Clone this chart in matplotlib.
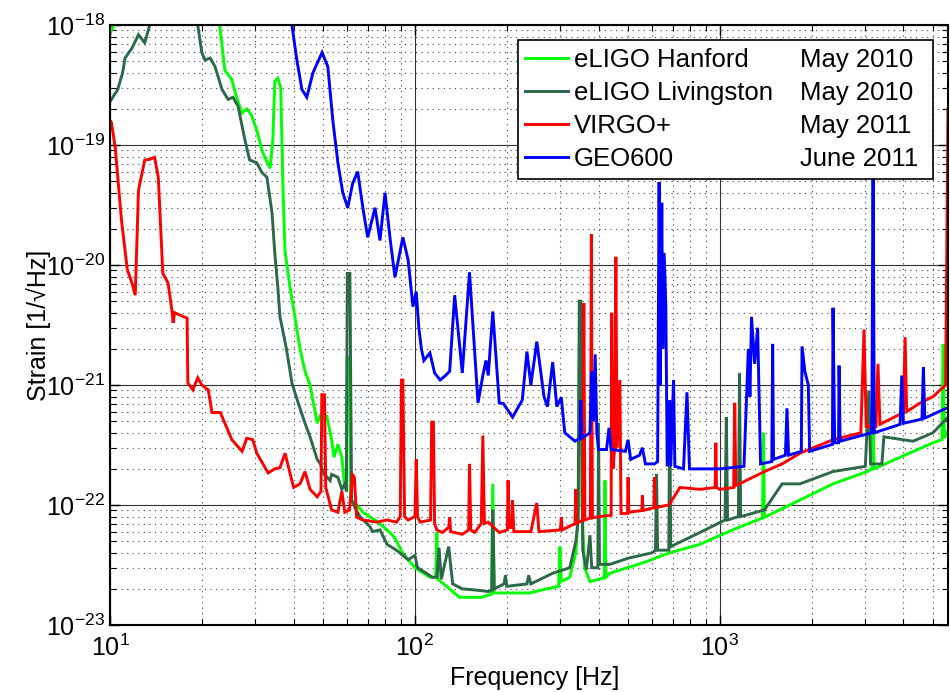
import numpy as np
import matplotlib
matplotlib.use("Agg")
import matplotlib.pyplot as plt
from matplotlib.lines import Line2D
from matplotlib.ticker import LogLocator, NullFormatter

plt.rcParams['font.family'] = ['Liberation Sans', 'DejaVu Sans']
plt.rcParams['mathtext.fontset'] = 'custom'
plt.rcParams['mathtext.rm'] = 'Liberation Sans'
plt.rcParams['mathtext.it'] = 'Liberation Sans'

# eLIGO Hanford, May 2010
hanford_f = [10.0, 10.3, 11.0, 20.0, 22.8, 23.8, 25.1, 26.0, 27.1, 28.1, 29.0, 30.3, 31.5, 32.2,
             33.5, 34.2, 34.7, 35.5, 36.3, 36.9, 37.5, 38.9, 40.4, 42.0, 43.6, 45.3, 47.8, 49.6,
             51.4, 53.3, 54.3, 55.9, 57.6, 58.9, 59.6, 60.0, 61.0, 61.5, 64.4, 67.5, 75.0, 81.0,
             85.0, 87.0, 91.0, 100.0, 112.0, 117.0, 118.0, 119.0, 127.0, 140.0, 150.0, 165.0,
             178.0, 180.0, 182.0, 200.0, 238.0, 270.0, 296.0, 299.0, 302.0, 322.0, 337.0, 343.0,
             347.0, 350.0, 353.0, 360.0, 375.0, 400.0, 418.0, 420.0, 423.0, 436.0, 560.0, 685.0,
             860.0, 1100.0, 1380.0, 1390.0, 1400.0, 1830.0, 2350.0, 3040.0, 3150.0, 3180.0, 3200.0,
             3900.0, 5000.0, 5350.0, 5400.0, 5450.0, 5600.0]
hanford_h = [8.5e-19, 1.0e-18, 1.6e-18, 4.0e-18, 1.1e-18, 4.2e-19, 3.5e-19, 2.5e-19, 1.85e-19,
             2.0e-19, 1.8e-19, 1.33e-19, 9.1e-20, 7.9e-20, 6.4e-20, 1.1e-19, 3.4e-19, 3.6e-19,
             3.0e-19, 4.5e-20, 1.3e-20, 6.6e-21, 3.7e-21, 2.0e-21, 1.3e-21, 1.0e-21, 4.8e-22,
             6.0e-22, 5.5e-22, 3.5e-22, 2.5e-22, 3.2e-22, 2.5e-22, 1.4e-22, 1.5e-22, 1.7e-21,
             1.7e-21, 1.1e-22, 1.0e-22, 8.7e-23, 7.3e-23, 6.2e-23, 5.5e-23, 5.0e-23, 4.0e-23,
             3.0e-23, 2.5e-23, 2.5e-23, 5.9e-23, 2.4e-23, 2.1e-23, 1.7e-23, 1.7e-23, 1.7e-23,
             1.8e-23, 1.5e-22, 1.85e-23, 1.85e-23, 1.85e-23, 2.0e-23, 2.1e-23, 4.5e-23, 2.3e-23,
             2.5e-23, 4.0e-23, 8.0e-23, 4.8e-21, 4.8e-21, 1.0e-22, 3.0e-23, 2.3e-23, 2.4e-23,
             2.5e-23, 1.6e-22, 2.5e-23, 2.7e-23, 3.3e-23, 4.0e-23, 4.7e-23, 6.2e-23, 7.8e-23,
             4.0e-22, 7.9e-23, 1.1e-22, 1.5e-22, 1.9e-22, 2.0e-22, 1.0e-21, 2.0e-22, 2.5e-22,
             3.3e-22, 3.5e-22, 2.2e-21, 3.6e-22, 4.2e-22]

# eLIGO Livingston, May 2010
livingston_f = [10.0, 10.6, 11.0, 11.2, 11.8, 12.4, 13.0, 13.5, 14.5, 18.5, 19.4, 20.0, 20.5,
                21.3, 22.1, 23.3, 24.4, 25.3, 26.3, 27.7, 28.7, 30.3, 31.5, 32.7, 34.0, 34.7,
                35.5, 36.1, 37.9, 39.5, 41.4, 43.6, 45.3, 47.8, 49.0, 50.0, 52.7, 53.3, 55.9,
                57.6, 58.9, 59.6, 60.0, 61.2, 62.0, 64.4, 66.1, 71.2, 72.6, 76.8, 81.0, 87.0,
                95.0, 100.0, 102.0, 109.0, 114.0, 118.0, 120.0, 122.0, 129.0, 133.0, 143.0,
                160.0, 174.0, 179.0, 180.0, 182.0, 196.0, 198.0, 200.0, 233.0, 236.0, 240.0,
                283.0, 322.0, 337.0, 343.0, 346.0, 350.0, 355.0, 365.0, 375.0, 380.0, 398.0,
                400.0, 403.0, 436.0, 500.0, 600.0, 615.0, 620.0, 625.0, 680.0, 685.0, 690.0,
                860.0, 1040.0, 1050.0, 1060.0, 1150.0, 1160.0, 1170.0, 1400.0, 1600.0, 1830.0,
                2350.0, 3000.0, 3080.0, 3120.0, 3400.0, 3450.0, 4300.0, 5000.0, 5600.0]
livingston_h = [2.3e-19, 2.9e-19, 4.0e-19, 5.3e-19, 6.4e-19, 8.3e-19, 7.1e-19, 1.0e-18, 2.0e-18,
                2.5e-18, 1.0e-18, 5.9e-19, 5.1e-19, 5.3e-19, 4.5e-19, 2.9e-19, 2.4e-19, 2.5e-19,
                2.1e-19, 1.1e-19, 7.5e-20, 7.1e-20, 5.9e-20, 5.4e-20, 2.7e-20, 1.26e-20, 6.6e-21,
                3.7e-21, 2.0e-21, 1.04e-21, 7.1e-22, 4.8e-22, 3.7e-22, 2.4e-22, 2.2e-22, 1.85e-22,
                1.6e-22, 1.8e-22, 1.7e-22, 1.35e-22, 1.5e-22, 1.3e-22, 8.5e-21, 8.5e-21, 1.1e-22,
                8.9e-23, 8.0e-23, 6.6e-23, 6.0e-23, 6.2e-23, 4.7e-23, 4.2e-23, 3.5e-23, 3.8e-23,
                3.0e-23, 2.7e-23, 2.5e-23, 2.5e-23, 4.4e-23, 2.4e-23, 4.5e-23, 2.2e-23, 2.0e-23,
                1.95e-23, 1.9e-23, 1.95e-23, 9.1e-23, 2.0e-23, 2.2e-23, 2.6e-23, 2.1e-23, 2.2e-23,
                2.6e-23, 2.2e-23, 2.7e-23, 3.0e-23, 5.0e-23, 7.5e-23, 5.0e-21, 5.0e-21, 4.2e-23,
                2.9e-23, 5.6e-23, 3.0e-23, 3.0e-23, 4.8e-22, 3.2e-23, 3.2e-23, 3.6e-23, 4.0e-23,
                4.2e-23, 1.8e-22, 4.2e-23, 4.2e-23, 7.0e-22, 4.5e-23, 5.9e-23, 7.5e-23, 5.4e-22,
                7.5e-23, 8.0e-23, 1.26e-21, 8.0e-23, 9.1e-23, 1.5e-22, 1.5e-22, 1.9e-22, 2.1e-22,
                9.0e-22, 2.2e-22, 2.2e-22, 3.7e-22, 3.4e-22, 4.0e-22, 5.4e-22]

# VIRGO+, May 2011
virgo_f = [10.0, 10.1, 10.4, 10.9, 11.4, 11.8, 12.1, 12.4, 13.0, 13.5, 14.0, 14.4, 14.9, 15.5,
           16.0, 16.1, 16.3, 17.9, 18.0, 18.7, 19.4, 20.0, 21.0, 21.6, 23.0, 25.1, 27.1, 28.1,
           29.4, 30.3, 33.0, 34.7, 36.1, 37.5, 38.9, 40.0, 42.0, 43.6, 45.3, 47.8, 49.2, 49.5,
           50.5, 51.0, 53.3, 55.9, 57.6, 58.9, 61.0, 62.5, 63.3, 64.4, 67.5, 75.0, 81.0, 87.0,
           89.5, 90.3, 91.3, 92.5, 95.0, 100.0, 101.0, 102.0, 104.0, 112.5, 113.5, 115.0, 116.0,
           118.0, 123.0, 129.0, 130.0, 131.0, 143.0, 150.0, 151.0, 152.5, 157.0, 165.0, 167.0,
           169.0, 174.0, 189.0, 201.0, 202.0, 204.0, 208.0, 209.0, 211.0, 240.0, 251.0, 255.0,
           300.0, 302.0, 304.0, 335.0, 337.0, 339.0, 355.0, 358.0, 361.0, 376.0, 379.0, 382.0,
           400.0, 440.0, 442.0, 446.0, 452.0, 456.0, 460.0, 470.0, 474.0, 498.0, 500.0, 503.0,
           555.0, 557.0, 560.0, 608.0, 610.0, 613.0, 680.0, 740.0, 860.0, 965.0, 970.0, 975.0,
           1000.0, 1110.0, 1119.0, 1128.0, 1400.0, 1600.0, 1830.0, 2350.0, 2900.0, 2970.0,
           3020.0, 3250.0, 3300.0, 3350.0, 4000.0, 4050.0, 4100.0, 4500.0, 5000.0, 5500.0, 5600.0]
virgo_h = [1.6e-19, 1.55e-19, 9.6e-20, 2.4e-20, 9.1e-21, 7.1e-21, 5.6e-21, 4.2e-20, 7.5e-20,
           7.6e-20, 7.9e-20, 5.4e-20, 8.5e-21, 7.1e-21, 4.0e-21, 3.3e-21, 4.0e-21, 3.6e-21,
           1.04e-21, 9.1e-22, 1.15e-21, 1.0e-21, 9.1e-22, 5.9e-22, 5.9e-22, 3.5e-22, 2.8e-22,
           3.6e-22, 3.5e-22, 2.7e-22, 1.85e-22, 2.0e-22, 2.05e-22, 2.7e-22, 1.85e-22, 1.4e-22,
           1.5e-22, 1.9e-22, 1.35e-22, 1.17e-22, 1.3e-22, 8.3e-22, 8.3e-22, 1.4e-22, 9.1e-23,
           8.7e-23, 1.3e-22, 8.7e-23, 9.1e-23, 1.78e-22, 1.7e-22, 7.9e-23, 7.5e-23, 7.2e-23,
           7.5e-23, 7.2e-23, 8.0e-23, 1.1e-21, 1.1e-21, 8.0e-23, 7.5e-23, 8.0e-23, 2.4e-22,
           8.0e-23, 7.2e-23, 7.5e-23, 4.9e-22, 4.9e-22, 7.0e-23, 6.2e-23, 5.9e-23, 6.5e-23,
           7.9e-23, 6.0e-23, 5.7e-23, 6.2e-23, 2.2e-22, 6.2e-23, 5.9e-23, 7.0e-23, 3.8e-22,
           7.0e-23, 7.2e-23, 5.9e-23, 6.2e-23, 1.6e-22, 6.5e-23, 6.5e-23, 1.1e-22, 6.0e-23,
           6.0e-23, 1.04e-22, 6.0e-23, 6.2e-23, 7.9e-23, 6.2e-23, 7.0e-23, 1.35e-22, 7.0e-23,
           7.5e-23, 4.8e-21, 7.5e-23, 7.8e-23, 1.8e-20, 7.8e-23, 8.0e-23, 8.2e-23, 4.0e-21,
           2.0e-22, 3.0e-22, 1.17e-20, 3.0e-22, 1.1e-21, 8.5e-23, 8.5e-23, 1.7e-22, 8.7e-23,
           9.0e-23, 1.2e-22, 9.0e-23, 9.5e-23, 1.7e-22, 9.5e-23, 1.0e-22, 1.4e-22, 1.35e-22,
           1.4e-22, 3.3e-22, 1.4e-22, 1.35e-22, 1.4e-22, 7.1e-22, 1.45e-22, 1.9e-22, 2.2e-22,
           2.7e-22, 3.5e-22, 4.0e-22, 2.9e-21, 4.5e-22, 4.5e-22, 1.5e-21, 4.7e-22, 5.9e-22,
           2.5e-21, 6.0e-22, 7.0e-22, 8.0e-22, 1.0e-21, 2.0e-19]

# GEO600, June 2011
geo_f = [38.5, 39.5, 41.0, 42.6, 44.2, 46.3, 49.6, 51.8, 53.8, 55.9, 58.0, 60.2, 62.5, 64.9,
         67.5, 70.0, 74.0, 76.8, 79.8, 82.8, 86.0, 91.3, 95.0, 98.5, 101.0, 103.0, 105.0, 107.0,
         112.0, 116.0, 121.0, 126.0, 130.0, 135.0, 143.0, 151.0, 161.0, 167.0, 171.0, 174.0,
         180.0, 189.0, 195.0, 209.0, 225.0, 233.0, 240.0, 251.0, 265.0, 272.0, 283.0, 292.0,
         302.0, 310.0, 335.0, 348.0, 350.0, 353.0, 375.0, 380.0, 385.0, 390.0, 395.0, 400.0,
         425.0, 433.0, 440.0, 490.0, 500.0, 510.0, 545.0, 557.0, 570.0, 610.0, 625.0, 632.0,
         638.0, 645.0, 650.0, 655.0, 660.0, 665.0, 672.0, 685.0, 690.0, 705.0, 712.0, 760.0,
         780.0, 795.0, 1000.0, 1200.0, 1240.0, 1255.0, 1270.0, 1300.0, 1330.0, 1360.0, 1480.0,
         1490.0, 1500.0, 1640.0, 1660.0, 1680.0, 1850.0, 1860.0, 1900.0, 1950.0, 1970.0, 2340.0,
         2350.0, 2380.0, 2450.0, 2460.0, 2480.0, 3150.0, 3180.0, 3210.0, 3900.0, 3950.0, 4000.0,
         4600.0, 4650.0, 4700.0, 5600.0]
geo_h = [1.3e-18, 1.0e-18, 5.1e-19, 2.9e-19, 2.5e-19, 4.0e-19, 5.9e-19, 4.5e-19, 1.6e-19,
         7.1e-20, 4.0e-20, 3.0e-20, 4.8e-20, 6.0e-20, 3.0e-20, 1.7e-20, 3.0e-20, 1.6e-20,
         4.0e-20, 1.7e-20, 7.9e-21, 1.7e-20, 1.1e-20, 4.5e-21, 6.0e-21, 3.0e-21, 2.0e-21,
         1.6e-21, 1.85e-21, 1.26e-21, 1.1e-21, 1.2e-21, 1.3e-21, 5.6e-21, 1.26e-21, 8.7e-21,
         7.1e-22, 1.2e-21, 1.6e-21, 1.2e-21, 4.1e-21, 7.1e-22, 7.0e-22, 5.4e-22, 7.5e-22,
         1.9e-21, 1.0e-21, 2.3e-21, 8.0e-22, 6.6e-22, 1.55e-21, 6.6e-22, 7.9e-22, 4.0e-22,
         3.4e-22, 3.6e-22, 7.5e-22, 3.6e-22, 4.0e-22, 1.3e-21, 5.0e-22, 1.8e-21, 4.0e-22,
         2.9e-22, 2.9e-22, 4.4e-22, 2.9e-22, 2.8e-22, 3.5e-22, 2.4e-22, 2.6e-22, 3.0e-22,
         2.2e-22, 2.2e-22, 2.3e-22, 4.9e-20, 1.0e-21, 3.3e-20, 2.0e-21, 1.26e-20, 8.5e-21,
         4.5e-21, 2.1e-22, 7.5e-22, 2.1e-22, 1.1e-21, 2.1e-22, 2.0e-22, 8.7e-22, 2.0e-22,
         2.0e-22, 2.1e-22, 2.0e-21, 8.0e-22, 3.7e-21, 1.5e-21, 3.0e-21, 2.2e-22, 2.3e-22,
         2.2e-21, 2.4e-22, 2.6e-22, 6.4e-22, 2.6e-22, 2.8e-22, 2.1e-21, 1.3e-21, 1.0e-21,
         2.8e-22, 3.2e-22, 4.4e-21, 3.3e-22, 3.3e-22, 1.45e-21, 3.4e-22, 4.0e-22, 1.0e-19,
         4.0e-22, 4.7e-22, 1.2e-21, 4.8e-22, 5.2e-22, 1.4e-21, 5.3e-22, 6.5e-22]

names = ['eLIGO Hanford', 'eLIGO Livingston', 'VIRGO+', 'GEO600']
dates = ['May 2010 ', 'May 2010 ', 'May 2011 ', 'June 2011 ']
colors = ['#00ff00', '#2d6848', '#ff0000', '#0000ff']
x_ticks = [10, 100, 1000]
y_ticks = [1e-23, 1e-22, 1e-21, 1e-20, 1e-19, 1e-18]

fig = plt.figure(figsize=(9.5, 6.92), dpi=100)
ax = fig.add_axes([110 / 950, 67 / 692, 838 / 950, 600 / 692])

series = [(hanford_f, hanford_h), (livingston_f, livingston_h),
          (virgo_f, virgo_h), (geo_f, geo_h)]
handles = []
for (f, h), c in zip(series, colors):
    line, = ax.loglog(f, h, color=c, linewidth=2.1, solid_joinstyle='miter')
    handles.append(line)

ax.set_xlim(10, 5600)
ax.set_ylim(1e-23, 1e-18)

ax.set_xticks(x_ticks)
ax.set_yticks(y_ticks)
ax.yaxis.set_minor_locator(LogLocator(base=10, subs=np.arange(2, 10), numticks=20))
ax.xaxis.set_minor_formatter(NullFormatter())
ax.yaxis.set_minor_formatter(NullFormatter())
ax.set_xlim(10, 5600)
ax.set_ylim(1e-23, 1e-18)

ax.set_axisbelow(True)
ax.grid(True, which='major', color='#333333', linestyle='-', linewidth=0.8)
ax.grid(True, which='minor', color='#444444', linestyle=(0, (1, 4)), linewidth=0.8)

ax.tick_params(which='both', direction='in', top=True, right=True, labelsize=18)
ax.tick_params(which='major', length=7, width=1)
ax.tick_params(which='minor', length=4, width=0.8)
ax.tick_params(axis='x', which='major', pad=7)
for sp in ax.spines.values():
    sp.set_linewidth(1.5)

ax.set_xlabel('Frequency [Hz]', fontsize=18)
ax.set_ylabel('Strain [1/\u221aHz]', fontsize=18)
ax.xaxis.set_label_coords(0.507, -0.068)
ax.yaxis.set_label_coords(-0.071, 0.5)

blanks = [Line2D([], [], color='none') for _ in dates]
leg = ax.legend(handles + blanks, names + dates, ncol=2, loc='upper right',
                fontsize=18.5, handlelength=1.67, handletextpad=0.2, columnspacing=-0.8,
                labelspacing=0.36, borderpad=0.28, borderaxespad=0.6,
                fancybox=False, framealpha=1.0, edgecolor='black')
leg.get_frame().set_linewidth(1.2)

fig.savefig('out.png', dpi=100)
